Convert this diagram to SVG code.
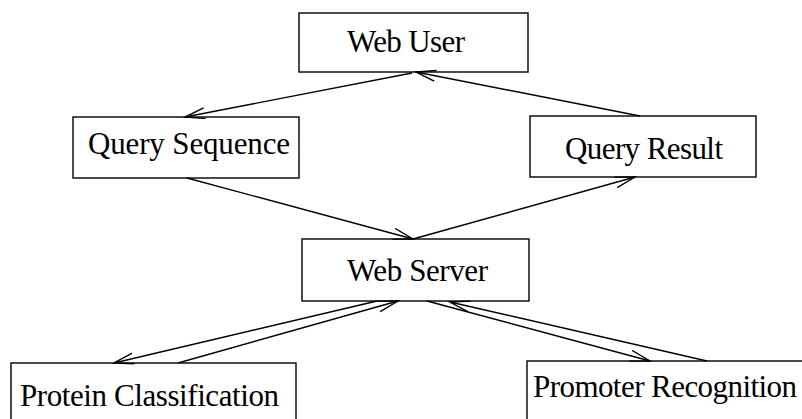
<svg xmlns="http://www.w3.org/2000/svg" width="802" height="419" viewBox="0 0 802 419">
<style>
.box{fill:#fff;stroke:#000;stroke-width:1.4}
.lbl{font-family:"Liberation Serif","Times New Roman",serif;font-size:31px;fill:#000}
.con{fill:none;stroke:#000;stroke-width:1.4}
</style>
<defs>
<marker id="arr" markerUnits="userSpaceOnUse" markerWidth="24" markerHeight="14" refX="20" refY="6" orient="auto">
<path d="M0,0.5 L20,6 L0,11.5" fill="none" stroke="#000" stroke-width="1.4"/>
</marker>
</defs>
<rect width="802" height="419" fill="#fff"/>
<g id="web-user">
<rect class="box" x="299" y="13" width="229" height="59"/>
<text class="lbl" x="347" y="52" textLength="118">Web User</text>
</g>
<g id="query-sequence">
<rect class="box" x="73" y="117" width="226" height="61"/>
<text class="lbl" x="88" y="154" textLength="202">Query Sequence</text>
</g>
<g id="query-result">
<rect class="box" x="530" y="116" width="226" height="61"/>
<text class="lbl" x="565" y="159" textLength="158">Query Result</text>
</g>
<g id="web-server">
<rect class="box" x="302" y="239" width="227" height="62"/>
<text class="lbl" x="347" y="281" textLength="141">Web Server</text>
</g>
<g id="protein-classification">
<rect class="box" x="11" y="363" width="285" height="70"/>
<text class="lbl" x="20" y="406" textLength="259">Protein Classification</text>
</g>
<g id="promoter-recognition">
<rect class="box" x="527" y="361" width="290" height="70"/>
<text class="lbl" x="533" y="397" textLength="264">Promoter Recognition</text>
</g>
<g id="connectors">
<line class="con" x1="412" y1="73" x2="185" y2="117" marker-end="url(#arr)"/>
<line class="con" x1="640" y1="116" x2="416" y2="72" marker-end="url(#arr)"/>
<line class="con" x1="187" y1="178" x2="413" y2="239" marker-end="url(#arr)"/>
<line class="con" x1="413" y1="239" x2="635" y2="177" marker-end="url(#arr)"/>
<line class="con" x1="377" y1="301" x2="114" y2="363" marker-end="url(#arr)"/>
<line class="con" x1="178" y1="363" x2="398" y2="301" marker-end="url(#arr)"/>
<line class="con" x1="427" y1="301" x2="650" y2="361" marker-end="url(#arr)"/>
<line class="con" x1="707" y1="361" x2="450" y2="302" marker-end="url(#arr)"/>
</g>
</svg>
